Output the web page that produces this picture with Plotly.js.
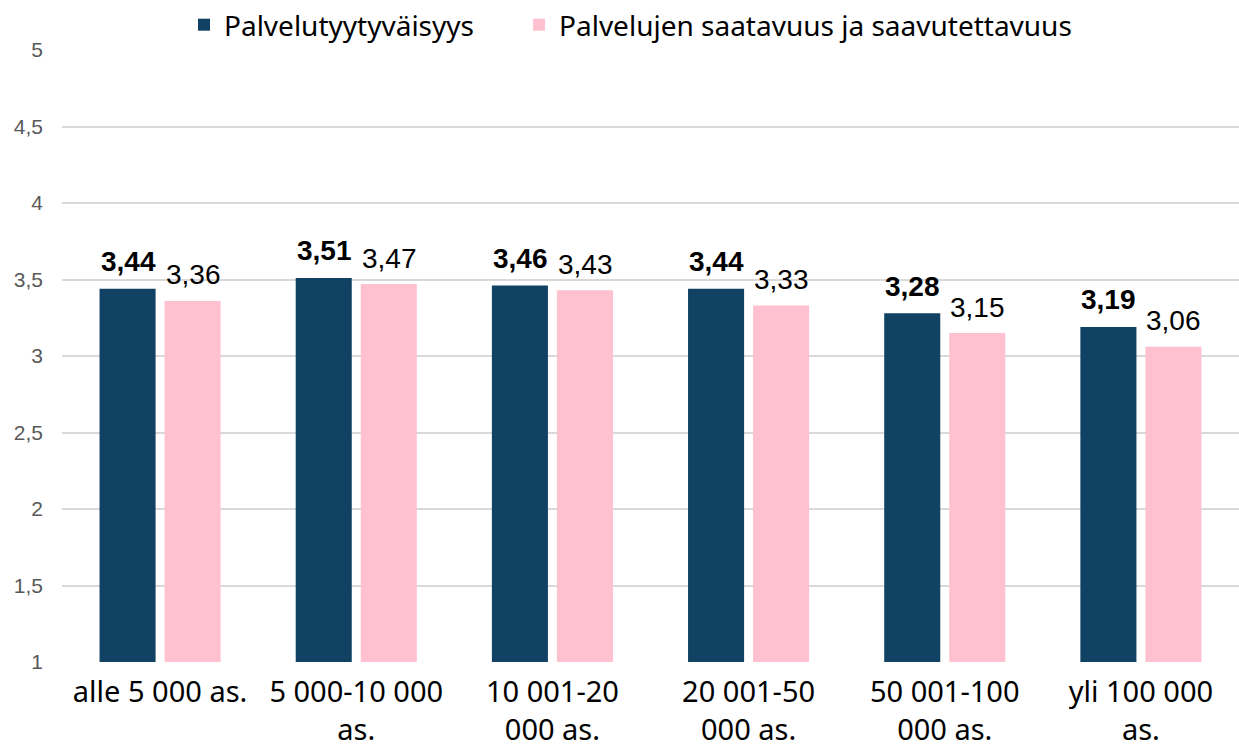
<!DOCTYPE html>
<html>
<head>
<meta charset="utf-8">
<script src="https://cdn.plot.ly/plotly-3.0.1.min.js"></script>
<style>
  html, body { margin: 0; padding: 0; background: #ffffff; }
  #chart { width: 1239px; height: 747px; }
</style>
</head>
<body>
<div id="chart"></div>
<script>
const categories = ["alle 5 000 as.", "5 000-10 000<br>as.", "10 001-20<br>000 as.", "20 001-50<br>000 as.", "50 001-100<br>000 as.", "yli 100 000<br>as."];
const seriesNames = ["Palvelutyytyväisyys", "Palvelujen saatavuus ja saavutettavuus"];
const satisfaction = [3.44, 3.51, 3.46, 3.44, 3.28, 3.19];
const availability = [3.36, 3.47, 3.43, 3.33, 3.15, 3.06];
const yTicks = [1, 1.5, 2, 2.5, 3, 3.5, 4, 4.5, 5];

const darkColor = "#124263";
const pinkColor = "#FFC0CF";
const fmt = v => v.toFixed(2).replace(".", ",");

const traces = [
  { type: "bar", name: seriesNames[0], x: categories, y: satisfaction, legend: "legend",
    marker: { color: darkColor, line: { width: 0 } }, hoverinfo: "skip" },
  { type: "bar", name: seriesNames[1], x: categories, y: availability, legend: "legend2",
    marker: { color: pinkColor, line: { width: 0 } }, hoverinfo: "skip" }
];

const labelFont = { family: "Liberation Sans, Arial, sans-serif", size: 28, color: "#000000" };
const annotations = [];
categories.forEach((c, i) => {
  annotations.push({ x: c, y: satisfaction[i], xref: "x", yref: "y", text: "<b>" + fmt(satisfaction[i]) + "</b>",
    showarrow: false, xshift: -32, yshift: 27, yanchor: "middle", font: labelFont });
  annotations.push({ x: c, y: availability[i], xref: "x", yref: "y", text: fmt(availability[i]),
    showarrow: false, xshift: 33, yshift: 26, yanchor: "middle", font: labelFont });
});

const legendFont = { family: "Noto Sans, sans-serif", size: 28, color: "#000000" };

const layout = {
  width: 1239, height: 747,
  margin: { l: 62, r: 0, t: 50, b: 85, pad: 0, autoexpand: false },
  paper_bgcolor: "#ffffff", plot_bgcolor: "#ffffff",
  separators: ", ",
  barmode: "group", bargap: 0.337, bargroupgap: 0.138,
  showlegend: true,
  legend: { orientation: "h", xref: "container", x: 0.1485, xanchor: "left", y: 1, yanchor: "top", yref: "container",
    font: legendFont },
  legend2: { orientation: "h", xref: "container", x: 0.4189, xanchor: "left", y: 1, yanchor: "top", yref: "container",
    font: legendFont },
  xaxis: {
    type: "category",
    tickfont: { family: "Noto Sans, sans-serif", size: 29, color: "#000000" },
    showgrid: false, zeroline: false, showline: false, ticks: "", ticklabelstandoff: 10, fixedrange: true
  },
  yaxis: {
    range: [1, 5], tickvals: yTicks,
    tickfont: { family: "Liberation Sans, Arial, sans-serif", size: 21, color: "#595959" },
    showgrid: true, gridcolor: "#d9d9d9", gridwidth: 2,
    zeroline: false, showline: false, ticks: "", ticklabelstandoff: 18, fixedrange: true
  },
  annotations: annotations
};

Plotly.newPlot("chart", traces, layout, { displayModeBar: false, staticPlot: true });
</script>
</body>
</html>
